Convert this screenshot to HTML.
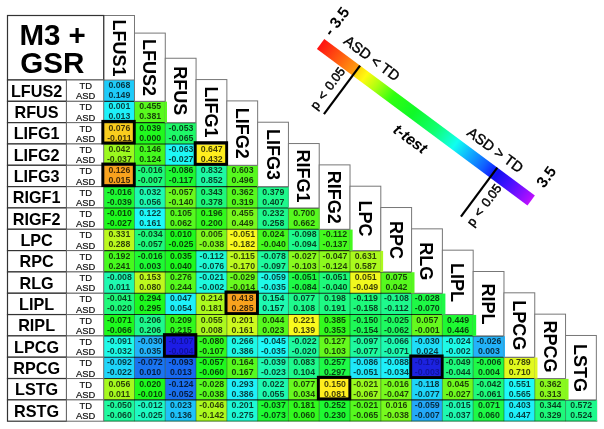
<!DOCTYPE html>
<html><head><meta charset="utf-8"><title>M3 + GSR</title>
<style>
html,body{margin:0;padding:0;background:#fff;}
body{width:604px;height:429px;overflow:hidden;font-family:"Liberation Sans",sans-serif;}
svg{display:block;font-family:"Liberation Sans",sans-serif;will-change:transform;-webkit-font-smoothing:antialiased;}
.t{font-weight:bold;font-size:30.3px;fill:#000;}
.rl{font-weight:bold;font-size:16.2px;fill:#000;text-anchor:middle;}
.ta{font-size:9.4px;fill:#111;stroke:#111;stroke-width:0.2px;text-anchor:middle;}
.c{font-size:9.7px;font-weight:bold;fill:rgba(0,0,0,0.74);text-anchor:middle;}
.h{font-weight:bold;font-size:18px;fill:#000;text-anchor:middle;}
.lg{fill:#000;}
</style></head><body>
<svg width="604" height="429" viewBox="0 0 604 429">
<rect x="0" y="0" width="604" height="429" fill="#fff"/>

<rect x="103.70" y="80.00" width="30.79" height="21.32" fill="#1ecbf9"/>
<rect x="103.70" y="101.33" width="30.79" height="21.32" fill="#1ef1f9"/>
<rect x="134.49" y="101.33" width="30.79" height="21.32" fill="#58f91e"/>
<rect x="103.70" y="122.65" width="30.79" height="21.32" fill="#f9cd1e"/>
<rect x="134.49" y="122.65" width="30.79" height="21.32" fill="#20f91e"/>
<rect x="165.28" y="122.65" width="30.79" height="21.32" fill="#1ef968"/>
<rect x="103.70" y="143.97" width="30.79" height="21.32" fill="#9bf91e"/>
<rect x="134.49" y="143.97" width="30.79" height="21.32" fill="#44f91e"/>
<rect x="165.28" y="143.97" width="30.79" height="21.32" fill="#1ef9f6"/>
<rect x="196.07" y="143.97" width="30.79" height="21.32" fill="#ffee1e"/>
<rect x="103.70" y="165.30" width="30.79" height="21.32" fill="#f9a21e"/>
<rect x="134.49" y="165.30" width="30.79" height="21.32" fill="#1ef97a"/>
<rect x="165.28" y="165.30" width="30.79" height="21.32" fill="#1ef932"/>
<rect x="196.07" y="165.30" width="30.79" height="21.32" fill="#1ef9a3"/>
<rect x="226.86" y="165.30" width="30.79" height="21.32" fill="#56f91e"/>
<rect x="103.70" y="186.62" width="30.79" height="21.32" fill="#1ef932"/>
<rect x="134.49" y="186.62" width="30.79" height="21.32" fill="#1ef9b0"/>
<rect x="165.28" y="186.62" width="30.79" height="21.32" fill="#6bf91e"/>
<rect x="196.07" y="186.62" width="30.79" height="21.32" fill="#1ef97a"/>
<rect x="226.86" y="186.62" width="30.79" height="21.32" fill="#56f91e"/>
<rect x="257.65" y="186.62" width="30.79" height="21.32" fill="#1ef98c"/>
<rect x="103.70" y="207.95" width="30.79" height="21.32" fill="#1ef91e"/>
<rect x="134.49" y="207.95" width="30.79" height="21.32" fill="#1ef9f9"/>
<rect x="165.28" y="207.95" width="30.79" height="21.32" fill="#56f91e"/>
<rect x="196.07" y="207.95" width="30.79" height="21.32" fill="#32f91e"/>
<rect x="226.86" y="207.95" width="30.79" height="21.32" fill="#77f91e"/>
<rect x="257.65" y="207.95" width="30.79" height="21.32" fill="#1ef98c"/>
<rect x="288.44" y="207.95" width="30.79" height="21.32" fill="#56f91e"/>
<rect x="103.70" y="229.28" width="30.79" height="21.32" fill="#baf91e"/>
<rect x="134.49" y="229.28" width="30.79" height="21.32" fill="#1ef97a"/>
<rect x="165.28" y="229.28" width="30.79" height="21.32" fill="#1ef91e"/>
<rect x="196.07" y="229.28" width="30.79" height="21.32" fill="#7ff91e"/>
<rect x="226.86" y="229.28" width="30.79" height="21.32" fill="#f9f91e"/>
<rect x="257.65" y="229.28" width="30.79" height="21.32" fill="#44f91e"/>
<rect x="288.44" y="229.28" width="30.79" height="21.32" fill="#1ef98c"/>
<rect x="319.23" y="229.28" width="30.79" height="21.32" fill="#44f91e"/>
<rect x="103.70" y="250.60" width="30.79" height="21.32" fill="#46f91e"/>
<rect x="134.49" y="250.60" width="30.79" height="21.32" fill="#1ef934"/>
<rect x="165.28" y="250.60" width="30.79" height="21.32" fill="#1ef91e"/>
<rect x="196.07" y="250.60" width="30.79" height="21.32" fill="#1ef9d5"/>
<rect x="226.86" y="250.60" width="30.79" height="21.32" fill="#bcf91e"/>
<rect x="257.65" y="250.60" width="30.79" height="21.32" fill="#1ef99e"/>
<rect x="288.44" y="250.60" width="30.79" height="21.32" fill="#88f91e"/>
<rect x="319.23" y="250.60" width="30.79" height="21.32" fill="#8cf91e"/>
<rect x="350.02" y="250.60" width="30.79" height="21.32" fill="#abf91e"/>
<rect x="103.70" y="271.92" width="30.79" height="21.32" fill="#1ef9b0"/>
<rect x="134.49" y="271.92" width="30.79" height="21.32" fill="#bef91e"/>
<rect x="165.28" y="271.92" width="30.79" height="21.32" fill="#56f91e"/>
<rect x="196.07" y="271.92" width="30.79" height="21.32" fill="#1ef9de"/>
<rect x="226.86" y="271.92" width="30.79" height="21.32" fill="#68f91e"/>
<rect x="257.65" y="271.92" width="30.79" height="21.32" fill="#1ef9e7"/>
<rect x="288.44" y="271.92" width="30.79" height="21.32" fill="#1ef946"/>
<rect x="319.23" y="271.92" width="30.79" height="21.32" fill="#1ef97a"/>
<rect x="350.02" y="271.92" width="30.79" height="21.32" fill="#f0f91e"/>
<rect x="380.81" y="271.92" width="30.79" height="21.32" fill="#56f91e"/>
<rect x="103.70" y="293.25" width="30.79" height="21.32" fill="#1ef97a"/>
<rect x="134.49" y="293.25" width="30.79" height="21.32" fill="#1ef91e"/>
<rect x="165.28" y="293.25" width="30.79" height="21.32" fill="#1ef0f9"/>
<rect x="196.07" y="293.25" width="30.79" height="21.32" fill="#abf91e"/>
<rect x="226.86" y="293.25" width="30.79" height="21.32" fill="#f9a21e"/>
<rect x="257.65" y="293.25" width="30.79" height="21.32" fill="#1ef9b0"/>
<rect x="288.44" y="293.25" width="30.79" height="21.32" fill="#1ef98c"/>
<rect x="319.23" y="293.25" width="30.79" height="21.32" fill="#1ef983"/>
<rect x="350.02" y="293.25" width="30.79" height="21.32" fill="#1ef97a"/>
<rect x="380.81" y="293.25" width="30.79" height="21.32" fill="#1ef98c"/>
<rect x="411.60" y="293.25" width="30.79" height="21.32" fill="#1ef946"/>
<rect x="103.70" y="314.57" width="30.79" height="21.32" fill="#1ef91e"/>
<rect x="134.49" y="314.57" width="30.79" height="21.32" fill="#1ef98c"/>
<rect x="165.28" y="314.57" width="30.79" height="21.32" fill="#32f91e"/>
<rect x="196.07" y="314.57" width="30.79" height="21.32" fill="#abf91e"/>
<rect x="226.86" y="314.57" width="30.79" height="21.32" fill="#cdf91e"/>
<rect x="257.65" y="314.57" width="30.79" height="21.32" fill="#56f91e"/>
<rect x="288.44" y="314.57" width="30.79" height="21.32" fill="#f9f91e"/>
<rect x="319.23" y="314.57" width="30.79" height="21.32" fill="#32f91e"/>
<rect x="350.02" y="314.57" width="30.79" height="21.32" fill="#1ef957"/>
<rect x="380.81" y="314.57" width="30.79" height="21.32" fill="#1ef960"/>
<rect x="411.60" y="314.57" width="30.79" height="21.32" fill="#65f91e"/>
<rect x="442.39" y="314.57" width="30.79" height="21.32" fill="#1ef932"/>
<rect x="103.70" y="335.90" width="30.79" height="21.32" fill="#1ef9e7"/>
<rect x="134.49" y="335.90" width="30.79" height="21.32" fill="#23b2f9"/>
<rect x="165.28" y="335.90" width="30.79" height="21.32" fill="#1c1ce6"/>
<rect x="196.07" y="335.90" width="30.79" height="21.32" fill="#32f91e"/>
<rect x="226.86" y="335.90" width="30.79" height="21.32" fill="#1ef9e7"/>
<rect x="257.65" y="335.90" width="30.79" height="21.32" fill="#1ef9f9"/>
<rect x="288.44" y="335.90" width="30.79" height="21.32" fill="#1ef99e"/>
<rect x="319.23" y="335.90" width="30.79" height="21.32" fill="#65f91e"/>
<rect x="350.02" y="335.90" width="30.79" height="21.32" fill="#1ef99e"/>
<rect x="380.81" y="335.90" width="30.79" height="21.32" fill="#1ef9b0"/>
<rect x="411.60" y="335.90" width="30.79" height="21.32" fill="#1edef9"/>
<rect x="442.39" y="335.90" width="30.79" height="21.32" fill="#1ef9e7"/>
<rect x="473.18" y="335.90" width="30.79" height="21.32" fill="#23b2f9"/>
<rect x="103.70" y="357.22" width="30.79" height="21.32" fill="#1ed5f9"/>
<rect x="134.49" y="357.22" width="30.79" height="21.32" fill="#1a74f0"/>
<rect x="165.28" y="357.22" width="30.79" height="21.32" fill="#1868f0"/>
<rect x="196.07" y="357.22" width="30.79" height="21.32" fill="#1ef91e"/>
<rect x="226.86" y="357.22" width="30.79" height="21.32" fill="#56f91e"/>
<rect x="257.65" y="357.22" width="30.79" height="21.32" fill="#1ef9b0"/>
<rect x="288.44" y="357.22" width="30.79" height="21.32" fill="#1ef98c"/>
<rect x="319.23" y="357.22" width="30.79" height="21.32" fill="#1ef946"/>
<rect x="350.02" y="357.22" width="30.79" height="21.32" fill="#1ee7f9"/>
<rect x="380.81" y="357.22" width="30.79" height="21.32" fill="#1eeff9"/>
<rect x="411.60" y="357.22" width="30.79" height="21.32" fill="#1c22e0"/>
<rect x="442.39" y="357.22" width="30.79" height="21.32" fill="#1ef97a"/>
<rect x="473.18" y="357.22" width="30.79" height="21.32" fill="#1ef946"/>
<rect x="503.97" y="357.22" width="30.79" height="21.32" fill="#e1f91e"/>
<rect x="103.70" y="378.55" width="30.79" height="21.32" fill="#a5f91e"/>
<rect x="134.49" y="378.55" width="30.79" height="21.32" fill="#1ef91e"/>
<rect x="165.28" y="378.55" width="30.79" height="21.32" fill="#1a70f0"/>
<rect x="196.07" y="378.55" width="30.79" height="21.32" fill="#56f91e"/>
<rect x="226.86" y="378.55" width="30.79" height="21.32" fill="#1ef0f9"/>
<rect x="257.65" y="378.55" width="30.79" height="21.32" fill="#1ef9b0"/>
<rect x="288.44" y="378.55" width="30.79" height="21.32" fill="#68f91e"/>
<rect x="319.23" y="378.55" width="30.79" height="21.32" fill="#ffee1e"/>
<rect x="350.02" y="378.55" width="30.79" height="21.32" fill="#99f91e"/>
<rect x="380.81" y="378.55" width="30.79" height="21.32" fill="#77f91e"/>
<rect x="411.60" y="378.55" width="30.79" height="21.32" fill="#1ed5f9"/>
<rect x="442.39" y="378.55" width="30.79" height="21.32" fill="#6ef91e"/>
<rect x="473.18" y="378.55" width="30.79" height="21.32" fill="#1ef97a"/>
<rect x="503.97" y="378.55" width="30.79" height="21.32" fill="#1ef9f9"/>
<rect x="534.76" y="378.55" width="30.79" height="21.32" fill="#88f91e"/>
<rect x="103.70" y="399.88" width="30.79" height="21.32" fill="#1ef99e"/>
<rect x="134.49" y="399.88" width="30.79" height="21.32" fill="#1ef9c2"/>
<rect x="165.28" y="399.88" width="30.79" height="21.32" fill="#1ec2f9"/>
<rect x="196.07" y="399.88" width="30.79" height="21.32" fill="#abf91e"/>
<rect x="226.86" y="399.88" width="30.79" height="21.32" fill="#1ef9d5"/>
<rect x="257.65" y="399.88" width="30.79" height="21.32" fill="#1ef932"/>
<rect x="288.44" y="399.88" width="30.79" height="21.32" fill="#32f91e"/>
<rect x="319.23" y="399.88" width="30.79" height="21.32" fill="#1ef932"/>
<rect x="350.02" y="399.88" width="30.79" height="21.32" fill="#56f91e"/>
<rect x="380.81" y="399.88" width="30.79" height="21.32" fill="#77f91e"/>
<rect x="411.60" y="399.88" width="30.79" height="21.32" fill="#23a9f9"/>
<rect x="442.39" y="399.88" width="30.79" height="21.32" fill="#1ef9b0"/>
<rect x="473.18" y="399.88" width="30.79" height="21.32" fill="#1ef946"/>
<rect x="503.97" y="399.88" width="30.79" height="21.32" fill="#1ef0f9"/>
<rect x="534.76" y="399.88" width="30.79" height="21.32" fill="#1ef97a"/>
<rect x="565.55" y="399.88" width="30.79" height="21.32" fill="#1ef98c"/>
<line x1="134.49" y1="101.33" x2="134.49" y2="421.20" stroke="rgba(0,40,0,0.42)" stroke-width="1"/>
<line x1="165.28" y1="122.65" x2="165.28" y2="421.20" stroke="rgba(0,40,0,0.42)" stroke-width="1"/>
<line x1="196.07" y1="143.97" x2="196.07" y2="421.20" stroke="rgba(0,40,0,0.42)" stroke-width="1"/>
<line x1="226.86" y1="165.30" x2="226.86" y2="421.20" stroke="rgba(0,40,0,0.42)" stroke-width="1"/>
<line x1="257.65" y1="186.62" x2="257.65" y2="421.20" stroke="rgba(0,40,0,0.42)" stroke-width="1"/>
<line x1="288.44" y1="207.95" x2="288.44" y2="421.20" stroke="rgba(0,40,0,0.42)" stroke-width="1"/>
<line x1="319.23" y1="229.28" x2="319.23" y2="421.20" stroke="rgba(0,40,0,0.42)" stroke-width="1"/>
<line x1="350.02" y1="250.60" x2="350.02" y2="421.20" stroke="rgba(0,40,0,0.42)" stroke-width="1"/>
<line x1="380.81" y1="271.92" x2="380.81" y2="421.20" stroke="rgba(0,40,0,0.42)" stroke-width="1"/>
<line x1="411.60" y1="293.25" x2="411.60" y2="421.20" stroke="rgba(0,40,0,0.42)" stroke-width="1"/>
<line x1="442.39" y1="314.57" x2="442.39" y2="421.20" stroke="rgba(0,40,0,0.42)" stroke-width="1"/>
<line x1="473.18" y1="335.90" x2="473.18" y2="421.20" stroke="rgba(0,40,0,0.42)" stroke-width="1"/>
<line x1="503.97" y1="357.22" x2="503.97" y2="421.20" stroke="rgba(0,40,0,0.42)" stroke-width="1"/>
<line x1="534.76" y1="378.55" x2="534.76" y2="421.20" stroke="rgba(0,40,0,0.42)" stroke-width="1"/>
<line x1="565.55" y1="399.88" x2="565.55" y2="421.20" stroke="rgba(0,40,0,0.42)" stroke-width="1"/>
<line x1="103.70" y1="101.33" x2="165.28" y2="101.33" stroke="rgba(0,0,0,0.8)" stroke-width="1.1"/>
<line x1="103.70" y1="122.65" x2="196.07" y2="122.65" stroke="rgba(0,0,0,0.8)" stroke-width="1.1"/>
<line x1="103.70" y1="143.97" x2="226.86" y2="143.97" stroke="rgba(0,0,0,0.8)" stroke-width="1.1"/>
<line x1="103.70" y1="165.30" x2="257.65" y2="165.30" stroke="rgba(0,0,0,0.8)" stroke-width="1.1"/>
<line x1="103.70" y1="186.62" x2="288.44" y2="186.62" stroke="rgba(0,0,0,0.8)" stroke-width="1.1"/>
<line x1="103.70" y1="207.95" x2="319.23" y2="207.95" stroke="rgba(0,0,0,0.8)" stroke-width="1.1"/>
<line x1="103.70" y1="229.28" x2="350.02" y2="229.28" stroke="rgba(0,0,0,0.8)" stroke-width="1.1"/>
<line x1="103.70" y1="250.60" x2="380.81" y2="250.60" stroke="rgba(0,0,0,0.8)" stroke-width="1.1"/>
<line x1="103.70" y1="271.92" x2="411.60" y2="271.92" stroke="rgba(0,0,0,0.8)" stroke-width="1.1"/>
<line x1="103.70" y1="293.25" x2="442.39" y2="293.25" stroke="rgba(0,0,0,0.8)" stroke-width="1.1"/>
<line x1="103.70" y1="314.57" x2="473.18" y2="314.57" stroke="rgba(0,0,0,0.8)" stroke-width="1.1"/>
<line x1="103.70" y1="335.90" x2="503.97" y2="335.90" stroke="rgba(0,0,0,0.8)" stroke-width="1.1"/>
<line x1="103.70" y1="357.22" x2="534.76" y2="357.22" stroke="rgba(0,0,0,0.8)" stroke-width="1.1"/>
<line x1="103.70" y1="378.55" x2="565.55" y2="378.55" stroke="rgba(0,0,0,0.8)" stroke-width="1.1"/>
<line x1="103.70" y1="399.88" x2="596.34" y2="399.88" stroke="rgba(0,0,0,0.8)" stroke-width="1.1"/>
<line x1="134.89" y1="80.00" x2="134.89" y2="101.33" stroke="rgba(0,60,0,0.35)" stroke-width="1"/>
<line x1="165.68" y1="101.33" x2="165.68" y2="122.65" stroke="rgba(0,60,0,0.35)" stroke-width="1"/>
<line x1="196.47" y1="122.65" x2="196.47" y2="143.97" stroke="rgba(0,60,0,0.35)" stroke-width="1"/>
<line x1="227.26" y1="143.97" x2="227.26" y2="165.30" stroke="rgba(0,60,0,0.35)" stroke-width="1"/>
<line x1="258.05" y1="165.30" x2="258.05" y2="186.62" stroke="rgba(0,60,0,0.35)" stroke-width="1"/>
<line x1="288.84" y1="186.62" x2="288.84" y2="207.95" stroke="rgba(0,60,0,0.35)" stroke-width="1"/>
<line x1="319.63" y1="207.95" x2="319.63" y2="229.28" stroke="rgba(0,60,0,0.35)" stroke-width="1"/>
<line x1="350.42" y1="229.28" x2="350.42" y2="250.60" stroke="rgba(0,60,0,0.35)" stroke-width="1"/>
<line x1="381.21" y1="250.60" x2="381.21" y2="271.92" stroke="rgba(0,60,0,0.35)" stroke-width="1"/>
<line x1="412.00" y1="271.92" x2="412.00" y2="293.25" stroke="rgba(0,60,0,0.35)" stroke-width="1"/>
<line x1="442.79" y1="293.25" x2="442.79" y2="314.57" stroke="rgba(0,60,0,0.35)" stroke-width="1"/>
<line x1="473.58" y1="314.57" x2="473.58" y2="335.90" stroke="rgba(0,60,0,0.35)" stroke-width="1"/>
<line x1="504.37" y1="335.90" x2="504.37" y2="357.22" stroke="rgba(0,60,0,0.35)" stroke-width="1"/>
<line x1="535.16" y1="357.22" x2="535.16" y2="378.55" stroke="rgba(0,60,0,0.35)" stroke-width="1"/>
<line x1="565.95" y1="378.55" x2="565.95" y2="399.88" stroke="rgba(0,60,0,0.35)" stroke-width="1"/>
<line x1="596.74" y1="399.88" x2="596.74" y2="421.20" stroke="rgba(0,60,0,0.35)" stroke-width="1"/>
<line x1="103.70" y1="421.20" x2="597.34" y2="421.20" stroke="rgba(0,50,0,0.55)" stroke-width="1.2"/>
<rect x="103.70" y="15.50" width="30.79" height="64.50" fill="#fff" stroke="#777" stroke-width="1"/>
<text class="h" transform="translate(112.59,47.95) rotate(90)">LFUS1</text>
<rect x="134.49" y="33.10" width="30.79" height="68.22" fill="#fff" stroke="#777" stroke-width="1"/>
<text class="h" transform="translate(143.39,67.41) rotate(90)">LFUS2</text>
<rect x="165.28" y="58.25" width="30.79" height="64.40" fill="#fff" stroke="#777" stroke-width="1"/>
<text class="h" transform="translate(174.18,90.65) rotate(90)">RFUS</text>
<rect x="196.07" y="79.57" width="30.79" height="64.40" fill="#fff" stroke="#777" stroke-width="1"/>
<text class="h" transform="translate(204.97,111.97) rotate(90)">LIFG1</text>
<rect x="226.86" y="100.90" width="30.79" height="64.40" fill="#fff" stroke="#777" stroke-width="1"/>
<text class="h" transform="translate(235.76,133.30) rotate(90)">LIFG2</text>
<rect x="257.65" y="122.22" width="30.79" height="64.40" fill="#fff" stroke="#777" stroke-width="1"/>
<text class="h" transform="translate(266.54,154.62) rotate(90)">LIFG3</text>
<rect x="288.44" y="143.55" width="30.79" height="64.40" fill="#fff" stroke="#777" stroke-width="1"/>
<text class="h" transform="translate(297.33,175.95) rotate(90)">RIFG1</text>
<rect x="319.23" y="164.88" width="30.79" height="64.40" fill="#fff" stroke="#777" stroke-width="1"/>
<text class="h" transform="translate(328.12,197.27) rotate(90)">RIFG2</text>
<rect x="350.02" y="186.20" width="30.79" height="64.40" fill="#fff" stroke="#777" stroke-width="1"/>
<text class="h" transform="translate(358.91,218.60) rotate(90)">LPC</text>
<rect x="380.81" y="207.52" width="30.79" height="64.40" fill="#fff" stroke="#777" stroke-width="1"/>
<text class="h" transform="translate(389.70,239.92) rotate(90)">RPC</text>
<rect x="411.60" y="228.85" width="30.79" height="64.40" fill="#fff" stroke="#777" stroke-width="1"/>
<text class="h" transform="translate(420.49,261.25) rotate(90)">RLG</text>
<rect x="442.39" y="250.17" width="30.79" height="64.40" fill="#fff" stroke="#777" stroke-width="1"/>
<text class="h" transform="translate(451.28,282.57) rotate(90)">LIPL</text>
<rect x="473.18" y="271.50" width="30.79" height="64.40" fill="#fff" stroke="#777" stroke-width="1"/>
<text class="h" transform="translate(482.07,303.90) rotate(90)">RIPL</text>
<rect x="503.97" y="292.82" width="30.79" height="64.40" fill="#fff" stroke="#777" stroke-width="1"/>
<text class="h" transform="translate(512.87,325.22) rotate(90)">LPCG</text>
<rect x="534.76" y="314.15" width="30.79" height="64.40" fill="#fff" stroke="#777" stroke-width="1"/>
<text class="h" transform="translate(543.65,346.55) rotate(90)">RPCG</text>
<rect x="565.55" y="335.48" width="30.79" height="64.40" fill="#fff" stroke="#777" stroke-width="1"/>
<text class="h" transform="translate(574.44,367.88) rotate(90)">LSTG</text>
<rect x="164.78" y="101.62" width="2.20" height="21.02" fill="#58f91e"/>
<rect x="195.57" y="122.95" width="0.70" height="21.02" fill="#1ef968"/>
<rect x="257.15" y="165.60" width="0.70" height="21.02" fill="#56f91e"/>
<rect x="287.94" y="186.93" width="0.70" height="21.02" fill="#1ef98c"/>
<rect x="318.73" y="208.25" width="0.90" height="21.02" fill="#56f91e"/>
<rect x="349.52" y="229.58" width="3.10" height="21.02" fill="#44f91e"/>
<rect x="380.31" y="250.90" width="2.80" height="21.02" fill="#abf91e"/>
<rect x="411.10" y="272.22" width="3.40" height="21.02" fill="#56f91e"/>
<rect x="441.89" y="293.55" width="3.50" height="21.02" fill="#1ef946"/>
<rect x="472.68" y="314.88" width="3.50" height="21.02" fill="#1ef932"/>
<rect x="503.47" y="336.20" width="1.50" height="21.02" fill="#23b2f9"/>
<rect x="534.26" y="357.52" width="3.20" height="21.02" fill="#e1f91e"/>
<rect x="565.05" y="378.85" width="3.50" height="21.02" fill="#88f91e"/>
<rect x="595.84" y="400.18" width="1.20" height="21.02" fill="#1ef98c"/>
<rect x="7.5" y="15.5" width="96.20" height="64.50" fill="#fff" stroke="#333" stroke-width="1.2"/>
<text class="t" style="font-size:29.5px" x="19.4" y="45">M3 +</text>
<text class="t" style="font-size:29.6px" x="20.2" y="72.6">GSR</text>
<rect x="7.5" y="80.00" width="59.00" height="21.32" fill="#fff" stroke="#333" stroke-width="1.2"/>
<rect x="66.5" y="80.00" width="37.20" height="21.32" fill="#fff" stroke="#6a6a6a" stroke-width="1"/>
<text class="rl" x="36.60" y="96.70">LFUS2</text>
<text class="ta" x="85.70" y="89.00">TD</text>
<text class="ta" x="85.70" y="99.30">ASD</text>
<rect x="7.5" y="101.33" width="59.00" height="21.32" fill="#fff" stroke="#333" stroke-width="1.2"/>
<rect x="66.5" y="101.33" width="37.20" height="21.32" fill="#fff" stroke="#6a6a6a" stroke-width="1"/>
<text class="rl" x="36.60" y="118.03">RFUS</text>
<text class="ta" x="85.70" y="110.33">TD</text>
<text class="ta" x="85.70" y="120.62">ASD</text>
<rect x="7.5" y="122.65" width="59.00" height="21.32" fill="#fff" stroke="#333" stroke-width="1.2"/>
<rect x="66.5" y="122.65" width="37.20" height="21.32" fill="#fff" stroke="#6a6a6a" stroke-width="1"/>
<text class="rl" x="36.60" y="139.35">LIFG1</text>
<text class="ta" x="85.70" y="131.65">TD</text>
<text class="ta" x="85.70" y="141.95">ASD</text>
<rect x="7.5" y="143.97" width="59.00" height="21.32" fill="#fff" stroke="#333" stroke-width="1.2"/>
<rect x="66.5" y="143.97" width="37.20" height="21.32" fill="#fff" stroke="#6a6a6a" stroke-width="1"/>
<text class="rl" x="36.60" y="160.67">LIFG2</text>
<text class="ta" x="85.70" y="152.97">TD</text>
<text class="ta" x="85.70" y="163.28">ASD</text>
<rect x="7.5" y="165.30" width="59.00" height="21.32" fill="#fff" stroke="#333" stroke-width="1.2"/>
<rect x="66.5" y="165.30" width="37.20" height="21.32" fill="#fff" stroke="#6a6a6a" stroke-width="1"/>
<text class="rl" x="36.60" y="182.00">LIFG3</text>
<text class="ta" x="85.70" y="174.30">TD</text>
<text class="ta" x="85.70" y="184.60">ASD</text>
<rect x="7.5" y="186.62" width="59.00" height="21.32" fill="#fff" stroke="#333" stroke-width="1.2"/>
<rect x="66.5" y="186.62" width="37.20" height="21.32" fill="#fff" stroke="#6a6a6a" stroke-width="1"/>
<text class="rl" x="36.60" y="203.32">RIGF1</text>
<text class="ta" x="85.70" y="195.62">TD</text>
<text class="ta" x="85.70" y="205.93">ASD</text>
<rect x="7.5" y="207.95" width="59.00" height="21.32" fill="#fff" stroke="#333" stroke-width="1.2"/>
<rect x="66.5" y="207.95" width="37.20" height="21.32" fill="#fff" stroke="#6a6a6a" stroke-width="1"/>
<text class="rl" x="36.60" y="224.65">RIGF2</text>
<text class="ta" x="85.70" y="216.95">TD</text>
<text class="ta" x="85.70" y="227.25">ASD</text>
<rect x="7.5" y="229.28" width="59.00" height="21.32" fill="#fff" stroke="#333" stroke-width="1.2"/>
<rect x="66.5" y="229.28" width="37.20" height="21.32" fill="#fff" stroke="#6a6a6a" stroke-width="1"/>
<text class="rl" x="36.60" y="245.97">LPC</text>
<text class="ta" x="85.70" y="238.28">TD</text>
<text class="ta" x="85.70" y="248.58">ASD</text>
<rect x="7.5" y="250.60" width="59.00" height="21.32" fill="#fff" stroke="#333" stroke-width="1.2"/>
<rect x="66.5" y="250.60" width="37.20" height="21.32" fill="#fff" stroke="#6a6a6a" stroke-width="1"/>
<text class="rl" x="36.60" y="267.30">RPC</text>
<text class="ta" x="85.70" y="259.60">TD</text>
<text class="ta" x="85.70" y="269.90">ASD</text>
<rect x="7.5" y="271.92" width="59.00" height="21.32" fill="#fff" stroke="#333" stroke-width="1.2"/>
<rect x="66.5" y="271.92" width="37.20" height="21.32" fill="#fff" stroke="#6a6a6a" stroke-width="1"/>
<text class="rl" x="36.60" y="288.62">RLG</text>
<text class="ta" x="85.70" y="280.92">TD</text>
<text class="ta" x="85.70" y="291.22">ASD</text>
<rect x="7.5" y="293.25" width="59.00" height="21.32" fill="#fff" stroke="#333" stroke-width="1.2"/>
<rect x="66.5" y="293.25" width="37.20" height="21.32" fill="#fff" stroke="#6a6a6a" stroke-width="1"/>
<text class="rl" x="36.60" y="309.95">LIPL</text>
<text class="ta" x="85.70" y="302.25">TD</text>
<text class="ta" x="85.70" y="312.55">ASD</text>
<rect x="7.5" y="314.57" width="59.00" height="21.32" fill="#fff" stroke="#333" stroke-width="1.2"/>
<rect x="66.5" y="314.57" width="37.20" height="21.32" fill="#fff" stroke="#6a6a6a" stroke-width="1"/>
<text class="rl" x="36.60" y="331.27">RIPL</text>
<text class="ta" x="85.70" y="323.57">TD</text>
<text class="ta" x="85.70" y="333.88">ASD</text>
<rect x="7.5" y="335.90" width="59.00" height="21.32" fill="#fff" stroke="#333" stroke-width="1.2"/>
<rect x="66.5" y="335.90" width="37.20" height="21.32" fill="#fff" stroke="#6a6a6a" stroke-width="1"/>
<text class="rl" x="36.60" y="352.60">LPCG</text>
<text class="ta" x="85.70" y="344.90">TD</text>
<text class="ta" x="85.70" y="355.20">ASD</text>
<rect x="7.5" y="357.22" width="59.00" height="21.32" fill="#fff" stroke="#333" stroke-width="1.2"/>
<rect x="66.5" y="357.22" width="37.20" height="21.32" fill="#fff" stroke="#6a6a6a" stroke-width="1"/>
<text class="rl" x="36.60" y="373.92">RPCG</text>
<text class="ta" x="85.70" y="366.22">TD</text>
<text class="ta" x="85.70" y="376.52">ASD</text>
<rect x="7.5" y="378.55" width="59.00" height="21.32" fill="#fff" stroke="#333" stroke-width="1.2"/>
<rect x="66.5" y="378.55" width="37.20" height="21.32" fill="#fff" stroke="#6a6a6a" stroke-width="1"/>
<text class="rl" x="36.60" y="395.25">LSTG</text>
<text class="ta" x="85.70" y="387.55">TD</text>
<text class="ta" x="85.70" y="397.85">ASD</text>
<rect x="7.5" y="399.88" width="59.00" height="21.32" fill="#fff" stroke="#333" stroke-width="1.2"/>
<rect x="66.5" y="399.88" width="37.20" height="21.32" fill="#fff" stroke="#6a6a6a" stroke-width="1"/>
<text class="rl" x="36.60" y="416.57">RSTG</text>
<text class="ta" x="85.70" y="408.88">TD</text>
<text class="ta" x="85.70" y="419.18">ASD</text>
<text class="c" transform="translate(119.39,88.10) scale(0.905,1)">0.068</text>
<text class="c" transform="translate(119.39,98.00) scale(0.905,1)">0.149</text>
<text class="c" transform="translate(119.39,109.42) scale(0.905,1)">0.001</text>
<text class="c" transform="translate(119.39,119.33) scale(0.905,1)">0.013</text>
<text class="c" transform="translate(150.19,109.42) scale(0.905,1)">0.455</text>
<text class="c" transform="translate(150.19,119.33) scale(0.905,1)">0.381</text>
<text class="c" transform="translate(119.39,130.75) scale(0.905,1)">0.076</text>
<text class="c" transform="translate(119.39,140.65) scale(0.905,1)">-0.011</text>
<text class="c" transform="translate(150.19,130.75) scale(0.905,1)">0.039</text>
<text class="c" transform="translate(150.19,140.65) scale(0.905,1)">0.000</text>
<text class="c" transform="translate(180.98,130.75) scale(0.905,1)">-0.053</text>
<text class="c" transform="translate(180.98,140.65) scale(0.905,1)">-0.065</text>
<text class="c" transform="translate(119.39,152.07) scale(0.905,1)">0.042</text>
<text class="c" transform="translate(119.39,161.97) scale(0.905,1)">-0.037</text>
<text class="c" transform="translate(150.19,152.07) scale(0.905,1)">0.146</text>
<text class="c" transform="translate(150.19,161.97) scale(0.905,1)">0.124</text>
<text class="c" transform="translate(180.98,152.07) scale(0.905,1)">-0.063</text>
<text class="c" transform="translate(180.98,161.97) scale(0.905,1)">-0.027</text>
<text class="c" transform="translate(211.77,152.07) scale(0.905,1)">0.647</text>
<text class="c" transform="translate(211.77,161.97) scale(0.905,1)">0.432</text>
<text class="c" transform="translate(119.39,173.40) scale(0.905,1)">0.126</text>
<text class="c" transform="translate(119.39,183.30) scale(0.905,1)">0.015</text>
<text class="c" transform="translate(150.19,173.40) scale(0.905,1)">-0.016</text>
<text class="c" transform="translate(150.19,183.30) scale(0.905,1)">-0.007</text>
<text class="c" transform="translate(180.98,173.40) scale(0.905,1)">-0.086</text>
<text class="c" transform="translate(180.98,183.30) scale(0.905,1)">-0.117</text>
<text class="c" transform="translate(211.77,173.40) scale(0.905,1)">0.832</text>
<text class="c" transform="translate(211.77,183.30) scale(0.905,1)">0.852</text>
<text class="c" transform="translate(242.56,173.40) scale(0.905,1)">0.603</text>
<text class="c" transform="translate(242.56,183.30) scale(0.905,1)">0.496</text>
<text class="c" transform="translate(119.39,194.72) scale(0.905,1)">-0.016</text>
<text class="c" transform="translate(119.39,204.62) scale(0.905,1)">-0.039</text>
<text class="c" transform="translate(150.19,194.72) scale(0.905,1)">0.032</text>
<text class="c" transform="translate(150.19,204.62) scale(0.905,1)">0.056</text>
<text class="c" transform="translate(180.98,194.72) scale(0.905,1)">-0.057</text>
<text class="c" transform="translate(180.98,204.62) scale(0.905,1)">-0.140</text>
<text class="c" transform="translate(211.77,194.72) scale(0.905,1)">0.343</text>
<text class="c" transform="translate(211.77,204.62) scale(0.905,1)">0.378</text>
<text class="c" transform="translate(242.56,194.72) scale(0.905,1)">0.362</text>
<text class="c" transform="translate(242.56,204.62) scale(0.905,1)">0.319</text>
<text class="c" transform="translate(273.34,194.72) scale(0.905,1)">0.379</text>
<text class="c" transform="translate(273.34,204.62) scale(0.905,1)">0.407</text>
<text class="c" transform="translate(119.39,216.05) scale(0.905,1)">-0.010</text>
<text class="c" transform="translate(119.39,225.95) scale(0.905,1)">-0.027</text>
<text class="c" transform="translate(150.19,216.05) scale(0.905,1)">0.122</text>
<text class="c" transform="translate(150.19,225.95) scale(0.905,1)">0.161</text>
<text class="c" transform="translate(180.98,216.05) scale(0.905,1)">0.105</text>
<text class="c" transform="translate(180.98,225.95) scale(0.905,1)">0.062</text>
<text class="c" transform="translate(211.77,216.05) scale(0.905,1)">0.196</text>
<text class="c" transform="translate(211.77,225.95) scale(0.905,1)">0.200</text>
<text class="c" transform="translate(242.56,216.05) scale(0.905,1)">0.455</text>
<text class="c" transform="translate(242.56,225.95) scale(0.905,1)">0.449</text>
<text class="c" transform="translate(273.34,216.05) scale(0.905,1)">0.232</text>
<text class="c" transform="translate(273.34,225.95) scale(0.905,1)">0.258</text>
<text class="c" transform="translate(304.13,216.05) scale(0.905,1)">0.700</text>
<text class="c" transform="translate(304.13,225.95) scale(0.905,1)">0.662</text>
<text class="c" transform="translate(119.39,237.38) scale(0.905,1)">0.331</text>
<text class="c" transform="translate(119.39,247.28) scale(0.905,1)">0.288</text>
<text class="c" transform="translate(150.19,237.38) scale(0.905,1)">-0.034</text>
<text class="c" transform="translate(150.19,247.28) scale(0.905,1)">-0.057</text>
<text class="c" transform="translate(180.98,237.38) scale(0.905,1)">0.010</text>
<text class="c" transform="translate(180.98,247.28) scale(0.905,1)">-0.025</text>
<text class="c" transform="translate(211.77,237.38) scale(0.905,1)">0.005</text>
<text class="c" transform="translate(211.77,247.28) scale(0.905,1)">-0.038</text>
<text class="c" transform="translate(242.56,237.38) scale(0.905,1)">-0.051</text>
<text class="c" transform="translate(242.56,247.28) scale(0.905,1)">-0.182</text>
<text class="c" transform="translate(273.34,237.38) scale(0.905,1)">0.024</text>
<text class="c" transform="translate(273.34,247.28) scale(0.905,1)">-0.040</text>
<text class="c" transform="translate(304.13,237.38) scale(0.905,1)">-0.098</text>
<text class="c" transform="translate(304.13,247.28) scale(0.905,1)">-0.094</text>
<text class="c" transform="translate(334.93,237.38) scale(0.905,1)">-0.112</text>
<text class="c" transform="translate(334.93,247.28) scale(0.905,1)">-0.137</text>
<text class="c" transform="translate(119.39,258.70) scale(0.905,1)">0.192</text>
<text class="c" transform="translate(119.39,268.60) scale(0.905,1)">0.241</text>
<text class="c" transform="translate(150.19,258.70) scale(0.905,1)">-0.016</text>
<text class="c" transform="translate(150.19,268.60) scale(0.905,1)">0.003</text>
<text class="c" transform="translate(180.98,258.70) scale(0.905,1)">0.035</text>
<text class="c" transform="translate(180.98,268.60) scale(0.905,1)">0.040</text>
<text class="c" transform="translate(211.77,258.70) scale(0.905,1)">-0.112</text>
<text class="c" transform="translate(211.77,268.60) scale(0.905,1)">-0.076</text>
<text class="c" transform="translate(242.56,258.70) scale(0.905,1)">-0.115</text>
<text class="c" transform="translate(242.56,268.60) scale(0.905,1)">-0.170</text>
<text class="c" transform="translate(273.34,258.70) scale(0.905,1)">-0.078</text>
<text class="c" transform="translate(273.34,268.60) scale(0.905,1)">-0.097</text>
<text class="c" transform="translate(304.13,258.70) scale(0.905,1)">-0.027</text>
<text class="c" transform="translate(304.13,268.60) scale(0.905,1)">-0.103</text>
<text class="c" transform="translate(334.93,258.70) scale(0.905,1)">-0.047</text>
<text class="c" transform="translate(334.93,268.60) scale(0.905,1)">-0.124</text>
<text class="c" transform="translate(365.71,258.70) scale(0.905,1)">0.631</text>
<text class="c" transform="translate(365.71,268.60) scale(0.905,1)">0.587</text>
<text class="c" transform="translate(119.39,280.02) scale(0.905,1)">-0.008</text>
<text class="c" transform="translate(119.39,289.92) scale(0.905,1)">0.011</text>
<text class="c" transform="translate(150.19,280.02) scale(0.905,1)">0.153</text>
<text class="c" transform="translate(150.19,289.92) scale(0.905,1)">0.080</text>
<text class="c" transform="translate(180.98,280.02) scale(0.905,1)">0.276</text>
<text class="c" transform="translate(180.98,289.92) scale(0.905,1)">0.244</text>
<text class="c" transform="translate(211.77,280.02) scale(0.905,1)">-0.021</text>
<text class="c" transform="translate(211.77,289.92) scale(0.905,1)">-0.002</text>
<text class="c" transform="translate(242.56,280.02) scale(0.905,1)">-0.029</text>
<text class="c" transform="translate(242.56,289.92) scale(0.905,1)">-0.014</text>
<text class="c" transform="translate(273.34,280.02) scale(0.905,1)">-0.059</text>
<text class="c" transform="translate(273.34,289.92) scale(0.905,1)">-0.035</text>
<text class="c" transform="translate(304.13,280.02) scale(0.905,1)">-0.051</text>
<text class="c" transform="translate(304.13,289.92) scale(0.905,1)">-0.084</text>
<text class="c" transform="translate(334.93,280.02) scale(0.905,1)">-0.051</text>
<text class="c" transform="translate(334.93,289.92) scale(0.905,1)">-0.040</text>
<text class="c" transform="translate(365.71,280.02) scale(0.905,1)">0.051</text>
<text class="c" transform="translate(365.71,289.92) scale(0.905,1)">-0.049</text>
<text class="c" transform="translate(396.50,280.02) scale(0.905,1)">0.075</text>
<text class="c" transform="translate(396.50,289.92) scale(0.905,1)">0.042</text>
<text class="c" transform="translate(119.39,301.35) scale(0.905,1)">-0.041</text>
<text class="c" transform="translate(119.39,311.25) scale(0.905,1)">-0.020</text>
<text class="c" transform="translate(150.19,301.35) scale(0.905,1)">0.294</text>
<text class="c" transform="translate(150.19,311.25) scale(0.905,1)">0.295</text>
<text class="c" transform="translate(180.98,301.35) scale(0.905,1)">0.047</text>
<text class="c" transform="translate(180.98,311.25) scale(0.905,1)">0.054</text>
<text class="c" transform="translate(211.77,301.35) scale(0.905,1)">0.214</text>
<text class="c" transform="translate(211.77,311.25) scale(0.905,1)">0.181</text>
<text class="c" transform="translate(242.56,301.35) scale(0.905,1)">0.418</text>
<text class="c" transform="translate(242.56,311.25) scale(0.905,1)">0.285</text>
<text class="c" transform="translate(273.34,301.35) scale(0.905,1)">0.154</text>
<text class="c" transform="translate(273.34,311.25) scale(0.905,1)">0.157</text>
<text class="c" transform="translate(304.13,301.35) scale(0.905,1)">0.077</text>
<text class="c" transform="translate(304.13,311.25) scale(0.905,1)">0.108</text>
<text class="c" transform="translate(334.93,301.35) scale(0.905,1)">0.198</text>
<text class="c" transform="translate(334.93,311.25) scale(0.905,1)">0.191</text>
<text class="c" transform="translate(365.71,301.35) scale(0.905,1)">-0.119</text>
<text class="c" transform="translate(365.71,311.25) scale(0.905,1)">-0.158</text>
<text class="c" transform="translate(396.50,301.35) scale(0.905,1)">-0.108</text>
<text class="c" transform="translate(396.50,311.25) scale(0.905,1)">-0.112</text>
<text class="c" transform="translate(427.29,301.35) scale(0.905,1)">-0.028</text>
<text class="c" transform="translate(427.29,311.25) scale(0.905,1)">-0.070</text>
<text class="c" transform="translate(119.39,322.68) scale(0.905,1)">-0.071</text>
<text class="c" transform="translate(119.39,332.57) scale(0.905,1)">-0.066</text>
<text class="c" transform="translate(150.19,322.68) scale(0.905,1)">0.206</text>
<text class="c" transform="translate(150.19,332.57) scale(0.905,1)">0.206</text>
<text class="c" transform="translate(180.98,322.68) scale(0.905,1)">0.209</text>
<text class="c" transform="translate(180.98,332.57) scale(0.905,1)">0.215</text>
<text class="c" transform="translate(211.77,322.68) scale(0.905,1)">0.055</text>
<text class="c" transform="translate(211.77,332.57) scale(0.905,1)">0.008</text>
<text class="c" transform="translate(242.56,322.68) scale(0.905,1)">0.201</text>
<text class="c" transform="translate(242.56,332.57) scale(0.905,1)">0.161</text>
<text class="c" transform="translate(273.34,322.68) scale(0.905,1)">0.044</text>
<text class="c" transform="translate(273.34,332.57) scale(0.905,1)">0.023</text>
<text class="c" transform="translate(304.13,322.68) scale(0.905,1)">0.221</text>
<text class="c" transform="translate(304.13,332.57) scale(0.905,1)">0.139</text>
<text class="c" transform="translate(334.93,322.68) scale(0.905,1)">0.385</text>
<text class="c" transform="translate(334.93,332.57) scale(0.905,1)">0.353</text>
<text class="c" transform="translate(365.71,322.68) scale(0.905,1)">-0.150</text>
<text class="c" transform="translate(365.71,332.57) scale(0.905,1)">-0.154</text>
<text class="c" transform="translate(396.50,322.68) scale(0.905,1)">-0.025</text>
<text class="c" transform="translate(396.50,332.57) scale(0.905,1)">-0.062</text>
<text class="c" transform="translate(427.29,322.68) scale(0.905,1)">0.057</text>
<text class="c" transform="translate(427.29,332.57) scale(0.905,1)">-0.001</text>
<text class="c" transform="translate(458.08,322.68) scale(0.905,1)">0.449</text>
<text class="c" transform="translate(458.08,332.57) scale(0.905,1)">0.446</text>
<text class="c" transform="translate(119.39,344.00) scale(0.905,1)">-0.091</text>
<text class="c" transform="translate(119.39,353.90) scale(0.905,1)">-0.032</text>
<text class="c" transform="translate(150.19,344.00) scale(0.905,1)">-0.030</text>
<text class="c" transform="translate(150.19,353.90) scale(0.905,1)">0.035</text>
<text class="c" style="fill:rgba(0,0,70,0.42)" transform="translate(180.98,344.00) scale(0.905,1)">-0.107</text>
<text class="c" style="fill:rgba(0,0,70,0.42)" transform="translate(180.98,353.90) scale(0.905,1)">-0.004</text>
<text class="c" transform="translate(211.77,344.00) scale(0.905,1)">-0.080</text>
<text class="c" transform="translate(211.77,353.90) scale(0.905,1)">-0.107</text>
<text class="c" transform="translate(242.56,344.00) scale(0.905,1)">0.266</text>
<text class="c" transform="translate(242.56,353.90) scale(0.905,1)">0.386</text>
<text class="c" transform="translate(273.34,344.00) scale(0.905,1)">-0.045</text>
<text class="c" transform="translate(273.34,353.90) scale(0.905,1)">-0.035</text>
<text class="c" transform="translate(304.13,344.00) scale(0.905,1)">-0.022</text>
<text class="c" transform="translate(304.13,353.90) scale(0.905,1)">-0.020</text>
<text class="c" transform="translate(334.93,344.00) scale(0.905,1)">0.127</text>
<text class="c" transform="translate(334.93,353.90) scale(0.905,1)">0.103</text>
<text class="c" transform="translate(365.71,344.00) scale(0.905,1)">-0.097</text>
<text class="c" transform="translate(365.71,353.90) scale(0.905,1)">-0.077</text>
<text class="c" transform="translate(396.50,344.00) scale(0.905,1)">-0.066</text>
<text class="c" transform="translate(396.50,353.90) scale(0.905,1)">-0.071</text>
<text class="c" transform="translate(427.29,344.00) scale(0.905,1)">-0.030</text>
<text class="c" transform="translate(427.29,353.90) scale(0.905,1)">0.024</text>
<text class="c" transform="translate(458.08,344.00) scale(0.905,1)">-0.024</text>
<text class="c" transform="translate(458.08,353.90) scale(0.905,1)">-0.002</text>
<text class="c" transform="translate(488.88,344.00) scale(0.905,1)">-0.026</text>
<text class="c" transform="translate(488.88,353.90) scale(0.905,1)">0.003</text>
<text class="c" transform="translate(119.39,365.32) scale(0.905,1)">-0.092</text>
<text class="c" transform="translate(119.39,375.22) scale(0.905,1)">-0.022</text>
<text class="c" transform="translate(150.19,365.32) scale(0.905,1)">-0.072</text>
<text class="c" transform="translate(150.19,375.22) scale(0.905,1)">0.010</text>
<text class="c" transform="translate(180.98,365.32) scale(0.905,1)">-0.093</text>
<text class="c" transform="translate(180.98,375.22) scale(0.905,1)">0.013</text>
<text class="c" transform="translate(211.77,365.32) scale(0.905,1)">-0.057</text>
<text class="c" transform="translate(211.77,375.22) scale(0.905,1)">-0.060</text>
<text class="c" transform="translate(242.56,365.32) scale(0.905,1)">0.164</text>
<text class="c" transform="translate(242.56,375.22) scale(0.905,1)">0.167</text>
<text class="c" transform="translate(273.34,365.32) scale(0.905,1)">-0.039</text>
<text class="c" transform="translate(273.34,375.22) scale(0.905,1)">-0.023</text>
<text class="c" transform="translate(304.13,365.32) scale(0.905,1)">0.083</text>
<text class="c" transform="translate(304.13,375.22) scale(0.905,1)">0.104</text>
<text class="c" transform="translate(334.93,365.32) scale(0.905,1)">0.257</text>
<text class="c" transform="translate(334.93,375.22) scale(0.905,1)">0.297</text>
<text class="c" transform="translate(365.71,365.32) scale(0.905,1)">-0.086</text>
<text class="c" transform="translate(365.71,375.22) scale(0.905,1)">-0.051</text>
<text class="c" transform="translate(396.50,365.32) scale(0.905,1)">-0.088</text>
<text class="c" transform="translate(396.50,375.22) scale(0.905,1)">-0.034</text>
<text class="c" style="fill:rgba(0,0,70,0.42)" transform="translate(427.29,365.32) scale(0.905,1)">-0.179</text>
<text class="c" style="fill:rgba(0,0,70,0.42)" transform="translate(427.29,375.22) scale(0.905,1)">-0.003</text>
<text class="c" transform="translate(458.08,365.32) scale(0.905,1)">-0.049</text>
<text class="c" transform="translate(458.08,375.22) scale(0.905,1)">-0.044</text>
<text class="c" transform="translate(488.88,365.32) scale(0.905,1)">-0.006</text>
<text class="c" transform="translate(488.88,375.22) scale(0.905,1)">0.004</text>
<text class="c" transform="translate(519.66,365.32) scale(0.905,1)">0.789</text>
<text class="c" transform="translate(519.66,375.22) scale(0.905,1)">0.710</text>
<text class="c" transform="translate(119.39,386.65) scale(0.905,1)">0.056</text>
<text class="c" transform="translate(119.39,396.55) scale(0.905,1)">0.011</text>
<text class="c" transform="translate(150.19,386.65) scale(0.905,1)">0.020</text>
<text class="c" transform="translate(150.19,396.55) scale(0.905,1)">-0.010</text>
<text class="c" transform="translate(180.98,386.65) scale(0.905,1)">-0.124</text>
<text class="c" transform="translate(180.98,396.55) scale(0.905,1)">-0.052</text>
<text class="c" transform="translate(211.77,386.65) scale(0.905,1)">-0.028</text>
<text class="c" transform="translate(211.77,396.55) scale(0.905,1)">-0.038</text>
<text class="c" transform="translate(242.56,386.65) scale(0.905,1)">0.293</text>
<text class="c" transform="translate(242.56,396.55) scale(0.905,1)">0.386</text>
<text class="c" transform="translate(273.34,386.65) scale(0.905,1)">0.022</text>
<text class="c" transform="translate(273.34,396.55) scale(0.905,1)">0.055</text>
<text class="c" transform="translate(304.13,386.65) scale(0.905,1)">0.077</text>
<text class="c" transform="translate(304.13,396.55) scale(0.905,1)">0.034</text>
<text class="c" transform="translate(334.93,386.65) scale(0.905,1)">0.150</text>
<text class="c" transform="translate(334.93,396.55) scale(0.905,1)">0.081</text>
<text class="c" transform="translate(365.71,386.65) scale(0.905,1)">-0.021</text>
<text class="c" transform="translate(365.71,396.55) scale(0.905,1)">-0.067</text>
<text class="c" transform="translate(396.50,386.65) scale(0.905,1)">-0.016</text>
<text class="c" transform="translate(396.50,396.55) scale(0.905,1)">-0.047</text>
<text class="c" transform="translate(427.29,386.65) scale(0.905,1)">-0.118</text>
<text class="c" transform="translate(427.29,396.55) scale(0.905,1)">-0.077</text>
<text class="c" transform="translate(458.08,386.65) scale(0.905,1)">0.045</text>
<text class="c" transform="translate(458.08,396.55) scale(0.905,1)">-0.027</text>
<text class="c" transform="translate(488.88,386.65) scale(0.905,1)">-0.042</text>
<text class="c" transform="translate(488.88,396.55) scale(0.905,1)">-0.061</text>
<text class="c" transform="translate(519.66,386.65) scale(0.905,1)">0.551</text>
<text class="c" transform="translate(519.66,396.55) scale(0.905,1)">0.565</text>
<text class="c" transform="translate(550.45,386.65) scale(0.905,1)">0.362</text>
<text class="c" transform="translate(550.45,396.55) scale(0.905,1)">0.313</text>
<text class="c" transform="translate(119.39,407.98) scale(0.905,1)">-0.050</text>
<text class="c" transform="translate(119.39,417.88) scale(0.905,1)">-0.060</text>
<text class="c" transform="translate(150.19,407.98) scale(0.905,1)">-0.012</text>
<text class="c" transform="translate(150.19,417.88) scale(0.905,1)">-0.025</text>
<text class="c" transform="translate(180.98,407.98) scale(0.905,1)">0.023</text>
<text class="c" transform="translate(180.98,417.88) scale(0.905,1)">0.136</text>
<text class="c" transform="translate(211.77,407.98) scale(0.905,1)">-0.046</text>
<text class="c" transform="translate(211.77,417.88) scale(0.905,1)">-0.142</text>
<text class="c" transform="translate(242.56,407.98) scale(0.905,1)">0.201</text>
<text class="c" transform="translate(242.56,417.88) scale(0.905,1)">0.275</text>
<text class="c" transform="translate(273.34,407.98) scale(0.905,1)">-0.037</text>
<text class="c" transform="translate(273.34,417.88) scale(0.905,1)">-0.073</text>
<text class="c" transform="translate(304.13,407.98) scale(0.905,1)">0.181</text>
<text class="c" transform="translate(304.13,417.88) scale(0.905,1)">0.060</text>
<text class="c" transform="translate(334.93,407.98) scale(0.905,1)">0.252</text>
<text class="c" transform="translate(334.93,417.88) scale(0.905,1)">0.230</text>
<text class="c" transform="translate(365.71,407.98) scale(0.905,1)">-0.021</text>
<text class="c" transform="translate(365.71,417.88) scale(0.905,1)">-0.065</text>
<text class="c" transform="translate(396.50,407.98) scale(0.905,1)">0.016</text>
<text class="c" transform="translate(396.50,417.88) scale(0.905,1)">-0.038</text>
<text class="c" transform="translate(427.29,407.98) scale(0.905,1)">-0.059</text>
<text class="c" transform="translate(427.29,417.88) scale(0.905,1)">-0.007</text>
<text class="c" transform="translate(458.08,407.98) scale(0.905,1)">-0.015</text>
<text class="c" transform="translate(458.08,417.88) scale(0.905,1)">-0.037</text>
<text class="c" transform="translate(488.88,407.98) scale(0.905,1)">0.071</text>
<text class="c" transform="translate(488.88,417.88) scale(0.905,1)">0.060</text>
<text class="c" transform="translate(519.66,407.98) scale(0.905,1)">0.403</text>
<text class="c" transform="translate(519.66,417.88) scale(0.905,1)">0.447</text>
<text class="c" transform="translate(550.45,407.98) scale(0.905,1)">0.344</text>
<text class="c" transform="translate(550.45,417.88) scale(0.905,1)">0.329</text>
<text class="c" transform="translate(581.24,407.98) scale(0.905,1)">0.572</text>
<text class="c" transform="translate(581.24,417.88) scale(0.905,1)">0.524</text>
<rect x="102.80" y="121.35" width="31.49" height="21.62" fill="none" stroke="#000" stroke-width="2.9"/>
<rect x="195.17" y="142.67" width="31.49" height="21.62" fill="none" stroke="#000" stroke-width="2.9"/>
<rect x="102.80" y="164.00" width="31.49" height="21.62" fill="none" stroke="#000" stroke-width="2.9"/>
<rect x="225.96" y="291.95" width="31.49" height="21.62" fill="none" stroke="#000" stroke-width="2.9"/>
<rect x="164.38" y="334.60" width="31.49" height="21.62" fill="none" stroke="#000" stroke-width="2.9"/>
<rect x="410.70" y="355.92" width="31.49" height="21.62" fill="none" stroke="#000" stroke-width="2.9"/>
<rect x="318.33" y="377.25" width="31.49" height="21.62" fill="none" stroke="#000" stroke-width="2.9"/>
<defs><linearGradient id="g" x1="0" y1="0" x2="1" y2="0">
<stop offset="0" stop-color="#ff1212"/><stop offset="0.08" stop-color="#ff5410"/><stop offset="0.165" stop-color="#ff9c10"/>
<stop offset="0.178" stop-color="#ffda10"/><stop offset="0.21" stop-color="#fffa10"/><stop offset="0.265" stop-color="#b0ff10"/>
<stop offset="0.34" stop-color="#30ff10"/><stop offset="0.44" stop-color="#10f828"/><stop offset="0.545" stop-color="#10ff70"/>
<stop offset="0.64" stop-color="#10fff0"/><stop offset="0.705" stop-color="#10b0ff"/><stop offset="0.777" stop-color="#1060ff"/>
<stop offset="0.82" stop-color="#1020ff"/><stop offset="0.835" stop-color="#1410f0"/><stop offset="0.89" stop-color="#4010ff"/>
<stop offset="0.985" stop-color="#a810ff"/><stop offset="1" stop-color="#c010ff"/>
</linearGradient></defs>
<g transform="translate(324.3,39.1) rotate(36.6)">
<rect x="0" y="0" width="262.3" height="12.4" fill="url(#g)"/>
<line x1="44.5" y1="0" x2="44.5" y2="60.5" stroke="#000" stroke-width="2.2"/>
<line x1="215.5" y1="0" x2="215.5" y2="61" stroke="#000" stroke-width="2.2"/>
<text class="lg" x="16.9" y="-8" font-size="14.5" stroke="#000" stroke-width="0.4">ASD &lt; TD</text>
<text class="lg" x="170.6" y="-8" font-size="14.5" stroke="#000" stroke-width="0.4">ASD &gt; TD</text>
<text class="lg" x="109.6" y="34" font-size="15.5" font-weight="bold" font-style="italic">t-test</text>
<text class="lg" transform="translate(36.4,62) rotate(-90)" font-size="12.6" word-spacing="1.5" stroke="#000" stroke-width="0.45">p &lt; 0.05</text>
<text class="lg" transform="translate(231.6,62.5) rotate(-90)" font-size="12.6" word-spacing="1.5" stroke="#000" stroke-width="0.45">p &lt; 0.05</text>
<text class="lg" transform="translate(4.5,-6) rotate(-90)" font-size="15.6" font-weight="bold">- 3.5</text>
<text class="lg" transform="translate(265.6,-11) rotate(-90)" font-size="15.6" font-weight="bold">3.5</text>
</g>
</svg></body></html>
